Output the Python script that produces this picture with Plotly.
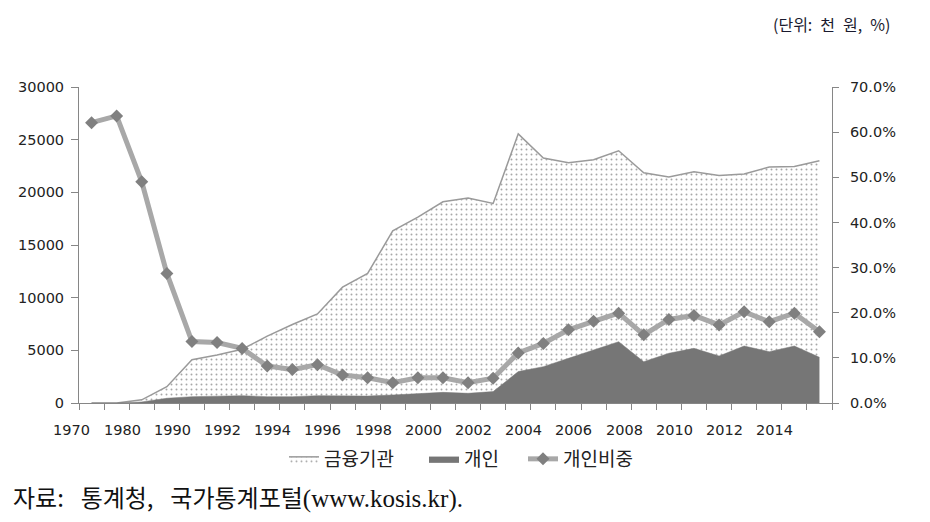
import plotly.graph_objects as go

years = ['1970', '1975', '1980', '1985', '1990', '1991', '1992', '1993', '1994', '1995',
         '1996', '1997', '1998', '1999', '2000', '2001', '2002', '2003', '2004', '2005',
         '2006', '2007', '2008', '2009', '2010', '2011', '2012', '2013', '2014', '2015']

fin = [0, 0, 300, 1550, 4100, 4550, 5100, 6350, 7450, 8450,
       11000, 12300, 16350, 17650, 19100, 19450, 18950, 25550, 23250, 22800,
       23100, 23950, 21850, 21450, 21950, 21600, 21750, 22400, 22450, 23000]

ind = [0, 0, 100, 450, 600, 660, 700, 600, 600, 700,
       680, 660, 760, 850, 1010, 920, 1080, 2980, 3450, 4240,
       5030, 5820, 3920, 4720, 5190, 4460, 5410, 4870, 5410, 4340]

ratio = [62.1, 63.6, 49.0, 28.7, 13.6, 13.4, 12.1, 8.2, 7.4, 8.5,
         6.2, 5.6, 4.5, 5.6, 5.6, 4.5, 5.5, 11.1, 13.2, 16.2,
         18.1, 19.9, 15.1, 18.5, 19.4, 17.3, 20.2, 18.0, 19.9, 15.8]

names = ['금융기관', '개인', '개인비중']

n = len(years)
# category index positions (category centres)
xs = [i + 0.5 for i in range(n)]
label_idx = list(range(0, n, 2))
label_txt = [years[i] for i in label_idx]

axis_col = '#868686'
tick_font = dict(family='DejaVu Sans', size=14.5, color='#222222')
kr_font = 'Noto Sans CJK KR'
PL, PW, PT, PH = 79, 753, 87, 316   # plot-area pixel box


def px_x(p):
    return (p - PL) / PW


def px_y(p):
    return (PT + PH - p) / PH


fig = go.Figure()
fig.add_trace(go.Scatter(
    x=xs, y=fin, name=names[0], mode='lines', legend='legend',
    line=dict(color='#9a9a9a', width=1.5),
    fill='tozeroy',
    fillpattern=dict(shape='.', fgcolor='#505050', bgcolor='white', size=5, solidity=0.12),
))
fig.add_trace(go.Scatter(
    x=xs, y=ind, name=names[1], mode='lines', legend='legend2',
    line=dict(color='#767676', width=0.5),
    fill='tozeroy', fillcolor='#767676',
))
fig.add_trace(go.Scatter(
    x=xs, y=[r / 100 for r in ratio], name=names[2], mode='lines+markers',
    yaxis='y2', legend='legend3',
    line=dict(color='#a8a8a8', width=5),
    marker=dict(symbol='diamond', size=10, color='#808080'),
))

# x tick labels sit slightly left of the category boundary, as in the source chart
annotations = [
    dict(text=t, xref='paper', yref='paper', x=(i - 0.28) / n, y=0, yshift=-27,
         xanchor='center', yanchor='middle', showarrow=False, font=tick_font)
    for i, t in zip(label_idx, label_txt)
]
gap = '\u2002\u2009'
annotations += [
    dict(text='(단위:\u2002천\u2002원,\u2002%)', xref='paper', yref='paper', x=px_x(892),
         y=px_y(24), xanchor='right', yanchor='middle', showarrow=False,
         font=dict(family=kr_font, size=16, color='#1a1a2e')),
    dict(text='<span style="font-family:Noto Sans CJK KR;font-size:24px">'
              '자료:' + gap + '통계청,' + gap + '국가통계포털</span>(www.kosis.kr).',
         xref='paper', yref='paper',
         x=px_x(11), y=px_y(496), xanchor='left', yanchor='middle',
         showarrow=False,
         font=dict(family='Liberation Serif, ' + kr_font, size=25, color='#111111')),
]

leg_common = dict(orientation='h', yanchor='middle', y=px_y(459), xanchor='left',
                  font=dict(family=kr_font, size=19, color='#222222'),
                  bgcolor='rgba(0,0,0,0)', borderwidth=0)

fig.update_layout(
    width=930, height=522,
    margin=dict(l=PL, r=930 - PL - PW, t=PT, b=522 - PT - PH, autoexpand=False),
    paper_bgcolor='white', plot_bgcolor='white',
    showlegend=True,
    legend=dict(leg_common, x=px_x(284)),
    legend2=dict(leg_common, x=px_x(424)),
    legend3=dict(leg_common, x=px_x(523)),
    xaxis=dict(range=[0, n], showgrid=False, zeroline=False, automargin=False,
               showline=True, linecolor=axis_col, linewidth=1,
               tickmode='array', tickvals=list(range(n + 1)), ticks='outside', ticklen=6,
               tickcolor=axis_col, showticklabels=False),
    yaxis=dict(range=[0, 30000], dtick=5000, tickformat='d', showgrid=False,
               automargin=False, ticklabelstandoff=4,
               zeroline=False, showline=True, linecolor=axis_col, linewidth=1,
               ticks='outside', ticklen=7, tickcolor=axis_col, tickfont=tick_font),
    yaxis2=dict(range=[0, 0.7], dtick=0.1, tickformat='.1%', overlaying='y', side='right',
                automargin=False, ticklabelstandoff=8,
                showgrid=False, zeroline=False, showline=True, linecolor=axis_col,
                linewidth=1, ticks='outside', ticklen=6, tickcolor=axis_col,
                tickfont=tick_font),
    annotations=annotations,
)

fig.write_html('out.html', config={'displayModeBar': False},
               post_script="document.body.style.margin='0';")
